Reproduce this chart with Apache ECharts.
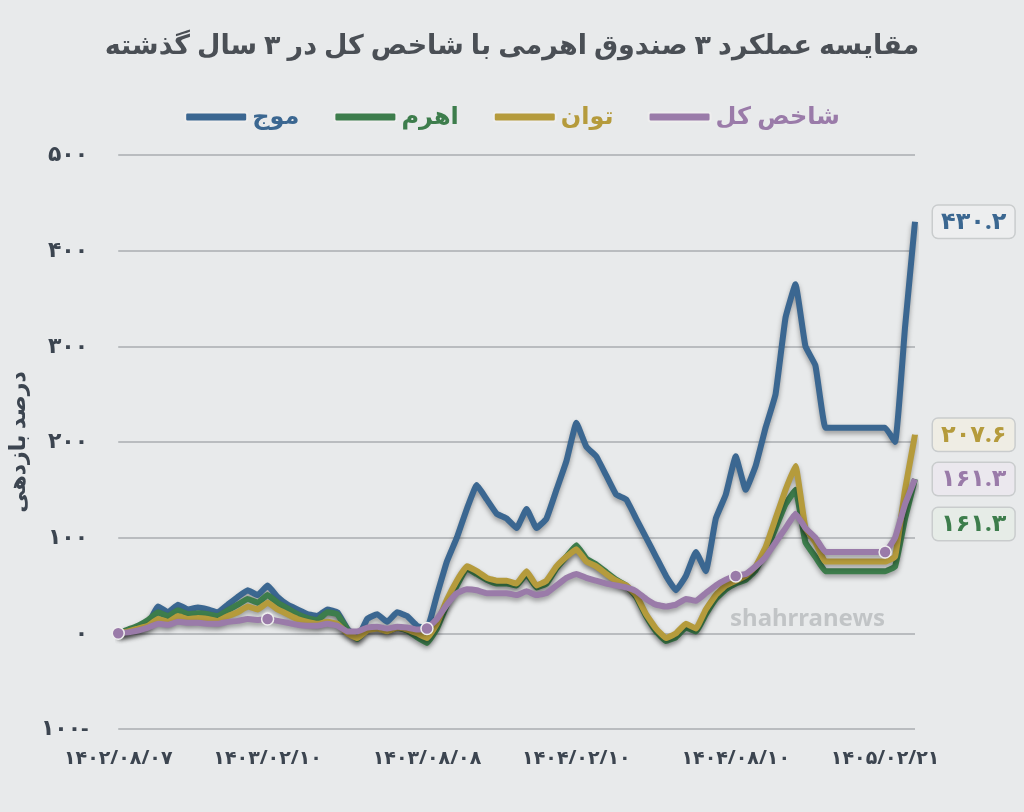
<!DOCTYPE html>
<html>
<head>
<meta charset="utf-8">
<script src="https://cdn.jsdelivr.net/npm/echarts@6/dist/echarts.min.js"></script>
<style>
  html, body { margin: 0; padding: 0; background: #e8eaeb; }
  #chart { width: 1024px; height: 812px; }
</style>
</head>
<body>
<div id="chart"></div>
<script>
// مقایسه عملکرد صندوق‌ها - داده‌ها از روی تصویر خوانده شده
const dateLabels = { 0: '1402/08/07', 15: '1403/02/10', 31: '1403/08/08', 46: '1404/02/10', 62: '1404/08/10', 77: '1405/02/21' };

const mojValues = [0, 2, 5, 10, 28, 22, 30, 25, 27, 25, 22, 30, 38, 45, 40, 50, 38, 30, 25, 20,
  18, 25, 22, 5, -5, 15, 20, 12, 22, 18, 8, 5, 40, 75, 100, 130, 155, 140, 125, 120,
  110, 130, 110, 120, 150, 180, 220, 195, 185, 165, 145, 140, 120, 100, 80, 60, 45, 60, 85, 65,
  120, 145, 185, 150, 175, 215, 250, 330, 365, 300, 280, 215, 215, 215, 215, 215, 215, 215, 200, 320, 430.2];

const ahramValues = [0, 4, 8, 14, 22, 18, 24, 20, 21, 20, 18, 24, 30, 36, 32, 40, 32, 26, 20, 16,
  14, 22, 20, 4, -6, 4, 6, 2, 6, 3, -4, -10, 5, 30, 50, 68, 62, 56, 52, 52,
  50, 62, 48, 52, 68, 80, 92, 78, 72, 64, 56, 50, 38, 18, 2, -8, -4, 6, 2, 20,
  36, 46, 52, 56, 66, 85, 110, 135, 150, 95, 80, 65, 65, 65, 65, 65, 65, 65, 70, 120, 161.3];

const tavanValues = [0, 2, 5, 8, 15, 12, 18, 15, 16, 15, 13, 18, 22, 28, 25, 32, 25, 20, 15, 12,
  10, 12, 10, 0, -5, 3, 5, 2, 6, 4, 0, -5, 10, 35, 55, 70, 65, 58, 55, 55,
  52, 65, 50, 55, 70, 80, 88, 75, 70, 62, 55, 50, 40, 20, 5, -5, 0, 10, 5, 25,
  40, 50, 55, 60, 70, 90, 120, 150, 175, 110, 95, 75, 75, 75, 75, 75, 75, 75, 80, 150, 207.6];

const shakhesValues = [0, 1, 3, 6, 10, 9, 12, 11, 11, 10, 10, 12, 13, 15, 14, 15, 13, 11, 9, 8,
  8, 10, 8, 2, 2, 6, 7, 5, 7, 6, 4, 5, 15, 30, 42, 46, 45, 42, 42, 42,
  40, 44, 40, 42, 50, 58, 62, 58, 55, 52, 50, 48, 44, 36, 30, 28, 30, 36, 34, 42,
  50, 56, 60, 62, 70, 80, 95, 110, 125, 110, 100, 85, 85, 85, 85, 85, 85, 85, 100, 135, 161.3];

const yTicks = [-100, 0, 100, 200, 300, 400, 500];

const fa = s => String(s).replace(/[0-9]/g, d => '۰۱۲۳۴۵۶۷۸۹'[d]);
const cats = mojValues.map((v, i) => String(i));
const font = '"Noto Sans", "DejaVu Sans", sans-serif';
const colors = { 'موج': '#3b6791', 'اهرم': '#3d7d4c', 'توان': '#b59b3c', 'شاخص کل': '#9a7ba9' };

function series(name, data, labelBg, labelOffset, markIdx) {
  const color = colors[name];
  return {
    name: name, type: 'line', data: data, smooth: 0.1,
    lineStyle: { width: 6, color: color, shadowColor: 'rgba(0,0,0,0.35)', shadowBlur: 5, shadowOffsetY: 3 },
    itemStyle: { color: color, borderColor: '#eee', borderWidth: 1.5 },
    showSymbol: true,
    symbol: (v, p) => markIdx.indexOf(p.dataIndex) >= 0 ? 'circle' : 'none',
    symbolSize: 12,
    endLabel: {
      show: true, offset: labelOffset,
      formatter: p => fa(p.value),
      color: color, fontSize: 24, fontWeight: 'bold', fontFamily: font,
      backgroundColor: labelBg, borderColor: '#c9cccd', borderWidth: 1.5, borderRadius: 5,
      padding: [4, 8]
    },
    z: name === 'شاخص کل' ? 5 : 3
  };
}

const chart = echarts.init(document.getElementById('chart'));
chart.setOption({
  backgroundColor: '#e8eaeb',
  animation: false,
  title: {
    text: 'مقایسه عملکرد ۳ صندوق اهرمی با شاخص کل در ۳ سال گذشته',
    left: 'center', top: 28,
    textStyle: { fontSize: 27, fontWeight: 'bold', color: '#4a4f55', fontFamily: font }
  },
  legend: {
    top: 100, left: 'center', itemWidth: 62, itemHeight: 9, itemGap: 34,
    data: ['موج', 'اهرم', 'توان', 'شاخص کل'].map(n => ({
      name: n, textStyle: { color: colors[n] }
    })),
    icon: 'roundRect',
    textStyle: { fontSize: 24, fontWeight: 'bold', fontFamily: font }
  },
  grid: { left: 118, right: 109, top: 155, bottom: 83 },
  xAxis: {
    type: 'category', data: cats, boundaryGap: false,
    axisLine: { show: false }, axisTick: { show: false },
    axisLabel: {
      interval: i => dateLabels[i] !== undefined,
      formatter: (v, i) => fa(dateLabels[i] || ''),
      fontSize: 19, fontWeight: 'bold', color: '#3c4550', fontFamily: font, margin: 20
    }
  },
  yAxis: {
    type: 'value', min: yTicks[0], max: yTicks[yTicks.length - 1], interval: 100,
    name: 'درصد بازدهی', nameLocation: 'middle', nameGap: 80, nameRotate: 90,
    nameTextStyle: { fontSize: 22, fontWeight: 'bold', color: '#3c4550', fontFamily: font },
    splitLine: { lineStyle: { color: '#b9bcbf', width: 2 } },
    axisLabel: {
      formatter: v => v < 0 ? fa(-v) + '-' : fa(v),
      fontSize: 22, fontWeight: 'bold', color: '#3c4550', fontFamily: font, margin: 30
    }
  },
  graphic: [{
    type: 'text', left: 730, top: 607,
    style: { text: 'shahrranews', fontSize: 24, fontWeight: 'bold', fill: 'rgba(120,125,130,0.35)', fontFamily: font }
  }],
  series: [
    series('موج', mojValues, '#edeeef', [10, 0], [80]),
    series('اهرم', ahramValues, '#e6ece7', [10, 45], []),
    series('توان', tavanValues, '#efede4', [10, 0], [80]),
    series('شاخص کل', shakhesValues, '#ebe8ee', [10, 0], [0, 15, 31, 62, 77, 80])
  ]
});
</script>
</body>
</html>
